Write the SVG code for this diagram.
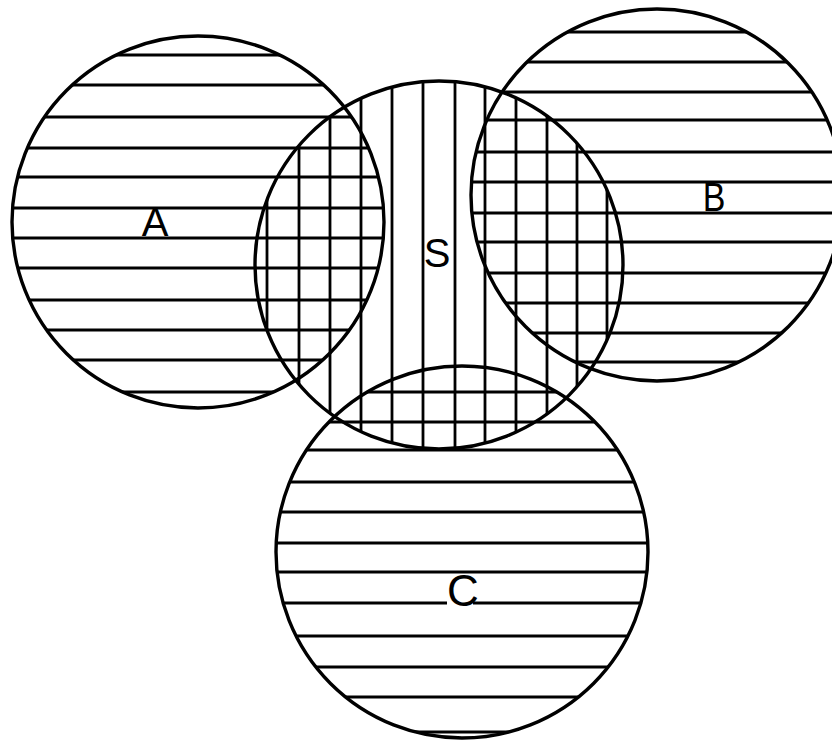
<svg xmlns="http://www.w3.org/2000/svg" width="832" height="741" viewBox="0 0 832 741">
<style>
.hatch{fill:none;stroke:#000;stroke-width:2.8;stroke-linecap:butt}
.ring{fill:none;stroke:#000;stroke-width:3.4}
.lbl{font-family:"Liberation Sans","DejaVu Sans",sans-serif;font-size:40px;fill:#000;text-anchor:middle}
</style>
<defs>
<clipPath id="clipA"><circle cx="198" cy="222" r="186"/></clipPath>
<clipPath id="clipB"><circle cx="657" cy="195" r="186"/></clipPath>
<clipPath id="clipC"><circle cx="462" cy="552" r="186"/></clipPath>
<clipPath id="clipS"><circle cx="439" cy="265" r="184"/></clipPath>
</defs>
<rect width="832" height="741" fill="#fff"/>
<g id="A">
<path class="hatch" clip-path="url(#clipA)" d="M0 55H400M0 85H400M0 117H400M0 148H400M0 177H400M0 208H400M0 238H400M0 268H400M0 300H400M0 330H400M0 360H400M0 392H400"/>
<circle class="ring" cx="198" cy="222" r="186"/>
<text class="lbl" x="155" y="236">A</text>
</g>
<g id="B">
<path class="hatch" clip-path="url(#clipB)" d="M460 32H832M460 62H832M460 92H832M460 120H832M460 152H832M460 182H832M460 213H832M460 242H832M460 273H832M460 303H832M460 333H832M460 362H832"/>
<circle class="ring" cx="657" cy="195" r="186"/>
<text class="lbl" x="714" y="211" transform="translate(714 0) scale(0.85 1) translate(-714 0)">B</text>
</g>
<g id="S">
<path class="hatch" clip-path="url(#clipS)" d="M267 75V455M299 75V455M330 75V455M361 75V455M392 75V455M423 75V455M455 75V455M485 75V455M516 75V455M547 75V455M577 75V455M607 75V455"/>
<circle class="ring" cx="439" cy="265" r="184"/>
<text class="lbl" x="437" y="267">S</text>
</g>
<g id="C">
<path class="hatch" clip-path="url(#clipC)" d="M270 392H660M270 422H660M270 450H660M270 482H660M270 512H660M270 543H660M270 572H660M270 603H660M270 636H660M270 667H660M270 697H660M270 732H660"/>
<circle class="ring" cx="462" cy="552" r="186"/>
<rect x="447" y="574" width="26" height="31" fill="#fff"/>
<text class="lbl" x="463" y="606" style="font-size:44px">C</text>
</g>
<g id="connectors"/>
</svg>
